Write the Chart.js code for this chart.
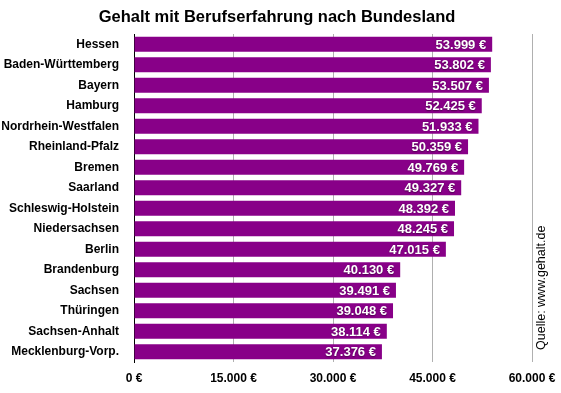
<!DOCTYPE html>
<html>
<head>
<meta charset="utf-8">
<script src="https://cdn.jsdelivr.net/npm/chart.js@4"></script>
<style>
  html, body { margin: 0; padding: 0; background: #fff; }
  #wrap { width: 561px; height: 393px; }
</style>
</head>
<body>
<div id="wrap"><canvas id="grafico" width="561" height="393"></canvas></div>
<script>
const bundeslaender = [
  "Hessen", "Baden-Württemberg", "Bayern", "Hamburg", "Nordrhein-Westfalen",
  "Rheinland-Pfalz", "Bremen", "Saarland", "Schleswig-Holstein", "Niedersachsen",
  "Berlin", "Brandenburg", "Sachsen", "Thüringen", "Sachsen-Anhalt", "Mecklenburg-Vorp."
];
const gehalt = [
  53999, 53802, 53507, 52425, 51933, 50359, 49769, 49327,
  48392, 48245, 47015, 40130, 39491, 39048, 38114, 37376
];
const xTicks = [0, 15000, 30000, 45000, 60000];

const FONT = "Helvetica, Arial, 'Liberation Sans', sans-serif";
const fmt = (v) => v.toLocaleString("de-DE") + " €";

// Titel, Wertbeschriftung und Quelle selbst zeichnen
const beschriftung = {
  id: "beschriftung",
  afterDatasetsDraw(chart) {
    const ctx = chart.ctx;
    const meta = chart.getDatasetMeta(0);
    ctx.save();
    ctx.font = "bold 13px " + FONT;
    ctx.fillStyle = "#fff";
    ctx.textAlign = "right";
    ctx.textBaseline = "middle";
    ctx.shadowColor = "rgba(0,0,0,0.45)";
    ctx.shadowBlur = 1.5;
    ctx.shadowOffsetY = 0.5;
    meta.data.forEach((bar, i) => {
      ctx.fillText(fmt(gehalt[i]), bar.x - 6, bar.y + 1);
    });
    ctx.restore();
  },
  afterDraw(chart) {
    const ctx = chart.ctx;
    ctx.save();
    ctx.fillStyle = "#000";
    ctx.font = "bold 16.5px " + FONT;
    ctx.textAlign = "center";
    ctx.textBaseline = "middle";
    ctx.fillText("Gehalt mit Berufserfahrung nach Bundesland", 277, 17);

    ctx.translate(545, 350);
    ctx.rotate(-Math.PI / 2);
    ctx.font = "12.5px " + FONT;
    ctx.textAlign = "left";
    ctx.textBaseline = "alphabetic";
    ctx.fillText("Quelle: www.gehalt.de", 0, 0);
    ctx.restore();
  }
};

new Chart(document.getElementById("grafico"), {
  type: "bar",
  data: {
    labels: bundeslaender,
    datasets: [{
      data: gehalt,
      backgroundColor: "#880088",
      borderWidth: 0,
      barPercentage: 0.74,
      categoryPercentage: 1,
    }],
  },
  options: {
    indexAxis: "y",
    responsive: false,
    animation: false,
    layout: { padding: { left: 0, right: 29, top: 34, bottom: 0 } },
    plugins: {
      legend: { display: false },
      tooltip: { enabled: false },
      title: { display: false },
    },
    scales: {
      x: {
        min: 0,
        max: 60000,
        afterBuildTicks: (s) => { s.ticks = xTicks.map((v) => ({ value: v })); },
        afterFit: (s) => { s.height = 31; s.paddingLeft = 0; s.paddingRight = 0; },
        grid: {
          color: (c) => (c.tick && c.tick.value === 0 ? "#000" : "#b0b0b0"),
          lineWidth: 1,
          drawTicks: false,
        },
        border: { display: false },
        ticks: {
          color: "#000",
          padding: 9,
          maxRotation: 0,
          font: { family: FONT, size: 12, weight: "bold" },
          callback: (v) => fmt(v),
        },
      },
      y: {
        afterFit: (s) => { s.width = 134; },
        grid: { display: false, drawTicks: false },
        border: { display: true, color: "#000", width: 1 },
        ticks: {
          color: "#000",
          padding: 15,
          font: { family: FONT, size: 12, weight: "bold" },
        },
      },
    },
  },
  plugins: [beschriftung],
});
</script>
</body>
</html>
